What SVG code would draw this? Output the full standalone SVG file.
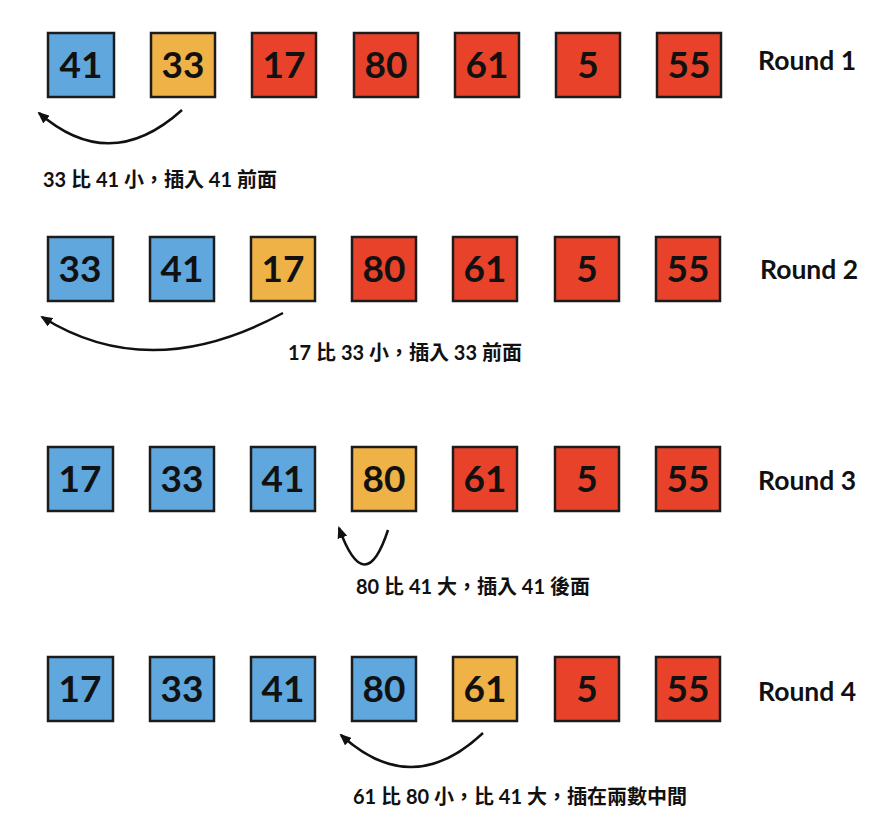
<svg xmlns="http://www.w3.org/2000/svg" width="895" height="819" viewBox="0 0 895 819">
<defs>
<style>
.b{stroke:#1c1c1c;stroke-width:2.5}
.blue{fill:#5fa7dd}
.org{fill:#efb246}
.red{fill:#e8432a}
.n{font-family:Lato,"Noto Sans",sans-serif;font-weight:700;font-size:37px;fill:#111;text-anchor:middle}
.r{font-family:Lato,"Noto Sans",sans-serif;font-weight:700;font-size:26.5px;fill:#111}
.c{font-family:Lato,"Noto Sans CJK TC",sans-serif;font-weight:700;font-size:20px;fill:#111}
.a{fill:none;stroke:#111;stroke-width:2.5}
</style>
<marker id="ah" viewBox="0 0 12 10" refX="10" refY="5" markerWidth="12" markerHeight="10" markerUnits="userSpaceOnUse" orient="auto">
<path d="M0,0 L12,5 L0,10 Z" fill="#111"/>
</marker>
</defs>
<rect width="895" height="819" fill="#fff"/>

<g id="round1">
<g id="r1n1"><rect class="b blue" x="48" y="33" width="66" height="64"/><text class="n" x="81" y="78">41</text></g>
<g id="r1n2"><rect class="b org" x="151" y="33" width="64" height="64"/><text class="n" x="183" y="78">33</text></g>
<g id="r1n3"><rect class="b red" x="252" y="33" width="64" height="64"/><text class="n" x="284" y="78">17</text></g>
<g id="r1n4"><rect class="b red" x="354" y="33" width="64" height="64"/><text class="n" x="386" y="78">80</text></g>
<g id="r1n5"><rect class="b red" x="455" y="33" width="64" height="64"/><text class="n" x="487" y="78">61</text></g>
<g id="r1n6"><rect class="b red" x="556" y="33" width="64" height="64"/><text class="n" x="588" y="78">5</text></g>
<g id="r1n7"><rect class="b red" x="657" y="33" width="64" height="64"/><text class="n" x="689" y="78">55</text></g>
<text class="r" x="758" y="70">Round 1</text>
<text class="c" x="43" y="187">33 比 41 小，插入 41 前面</text>
</g>

<g id="round2">
<g id="r2n1"><rect class="b blue" x="48" y="237" width="65" height="64"/><text class="n" x="80" y="282">33</text></g>
<g id="r2n2"><rect class="b blue" x="150" y="237" width="64" height="64"/><text class="n" x="182" y="282">41</text></g>
<g id="r2n3"><rect class="b org" x="251" y="237" width="64" height="64"/><text class="n" x="283" y="282">17</text></g>
<g id="r2n4"><rect class="b red" x="352" y="237" width="64" height="64"/><text class="n" x="384" y="282">80</text></g>
<g id="r2n5"><rect class="b red" x="453" y="237" width="64" height="64"/><text class="n" x="485" y="282">61</text></g>
<g id="r2n6"><rect class="b red" x="555" y="237" width="64" height="64"/><text class="n" x="587" y="282">5</text></g>
<g id="r2n7"><rect class="b red" x="656" y="237" width="64" height="64"/><text class="n" x="688" y="282">55</text></g>
<text class="r" x="760" y="279">Round 2</text>
<text class="c" x="288" y="360">17 比 33 小，插入 33 前面</text>
</g>

<g id="round3">
<g id="r3n1"><rect class="b blue" x="48" y="447" width="65" height="64"/><text class="n" x="80" y="492">17</text></g>
<g id="r3n2"><rect class="b blue" x="150" y="447" width="64" height="64"/><text class="n" x="182" y="492">33</text></g>
<g id="r3n3"><rect class="b blue" x="251" y="447" width="64" height="64"/><text class="n" x="283" y="492">41</text></g>
<g id="r3n4"><rect class="b org" x="352" y="447" width="64" height="64"/><text class="n" x="384" y="492">80</text></g>
<g id="r3n5"><rect class="b red" x="453" y="447" width="64" height="64"/><text class="n" x="485" y="492">61</text></g>
<g id="r3n6"><rect class="b red" x="555" y="447" width="64" height="64"/><text class="n" x="587" y="492">5</text></g>
<g id="r3n7"><rect class="b red" x="656" y="447" width="64" height="64"/><text class="n" x="688" y="492">55</text></g>
<text class="r" x="758" y="490">Round 3</text>
<text class="c" x="356" y="594">80 比 41 大，插入 41 後面</text>
</g>

<g id="round4">
<g id="r4n1"><rect class="b blue" x="48" y="657" width="65" height="64"/><text class="n" x="80" y="702">17</text></g>
<g id="r4n2"><rect class="b blue" x="150" y="657" width="64" height="64"/><text class="n" x="182" y="702">33</text></g>
<g id="r4n3"><rect class="b blue" x="251" y="657" width="64" height="64"/><text class="n" x="283" y="702">41</text></g>
<g id="r4n4"><rect class="b blue" x="352" y="657" width="64" height="64"/><text class="n" x="384" y="702">80</text></g>
<g id="r4n5"><rect class="b org" x="453" y="657" width="64" height="64"/><text class="n" x="485" y="702">61</text></g>
<g id="r4n6"><rect class="b red" x="555" y="657" width="64" height="64"/><text class="n" x="587" y="702">5</text></g>
<g id="r4n7"><rect class="b red" x="656" y="657" width="64" height="64"/><text class="n" x="688" y="702">55</text></g>
<text class="r" x="758" y="701">Round 4</text>
<text class="c" x="353" y="804">61 比 80 小，比 41 大，插在兩數中間</text>
</g>

<g id="connectors">
<path class="a" marker-end="url(#ah)" d="M182,110 Q110,175 39,113"/>
<path class="a" marker-end="url(#ah)" d="M283,313 Q150,385 42,317"/>
<path class="a" marker-end="url(#ah)" d="M388,530 Q365,600 339,528"/>
<path class="a" marker-end="url(#ah)" d="M483,733 Q412,800 341,735"/>
</g>
</svg>
